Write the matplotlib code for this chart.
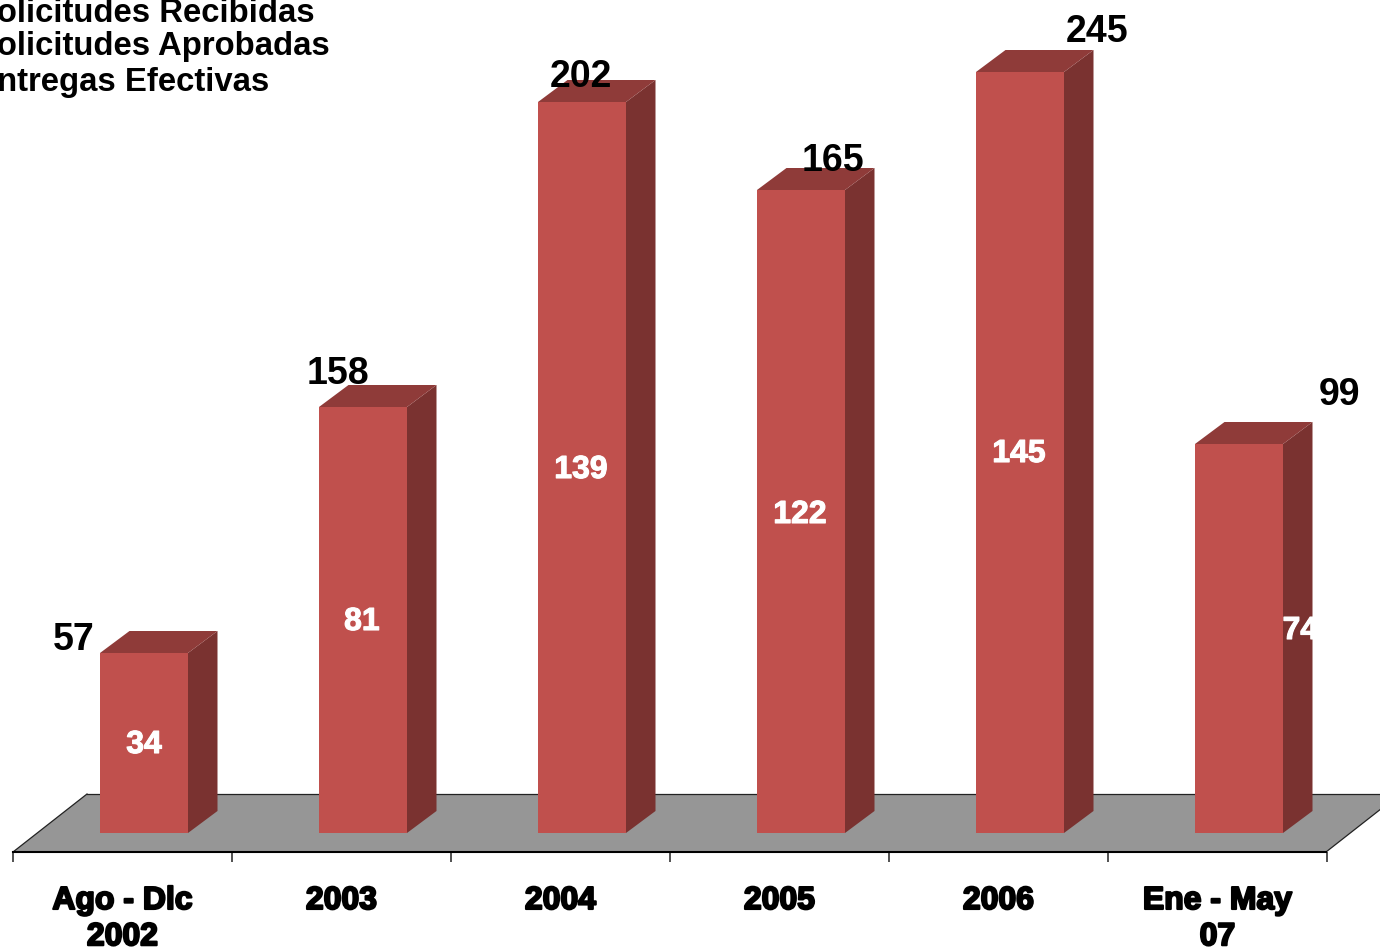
#!/usr/bin/python3.12
# Barras 3D de solicitudes: el volumen se dibuja a mano sobre ax.bar
import matplotlib
matplotlib.use("Agg")
import matplotlib.pyplot as plt
import matplotlib.patheffects as pe
from matplotlib.patches import Polygon, Rectangle

# Data
periods = ["Ago - Dlc\n2002", "2003", "2004", "2005", "2006", "Ene - May\n07"]
recibidas = [57, 158, 202, 165, 245, 99]
aprobadas = [34, 81, 139, 122, 145, 74]
bar_heights = [90, 213, 365.5, 321.5, 380.5, 194.5]
legend_names = ["Solicitudes Recibidas", "Solicitudes Aprobadas", "Entregas Efectivas"]

# label offsets from each bar's front centre, in axis units
top_dx = [-0.32, -0.115, -0.005, 0.145, 0.35, 0.46]
top_dy = [-4.5, 5.5, 1.5, 3.5, 9.0, 13.5]
inner_dx = [0.0, -0.005, -0.005, -0.005, -0.005, 0.28]
inner_y = [44, 105.5, 181.5, 159, 189.5, 101]

# geometry: one category = 219 px, one y unit = 2 px
PX_X = 219.0
PX_Y = 2.0
X0 = 144.0
Y0 = 833.0
half = 44 / PX_X
depth_x = 29.5 / PX_X
depth_y = 22 / PX_Y

FRONT = "#C0504D"
SIDE = "#7A3230"
TOP = "#8F3B39"
FLOOR = "#969696"


def px(x, y):
    return (x - X0) / PX_X, (Y0 - y) / PX_Y


plt.rcParams["font.family"] = ["Liberation Sans", "DejaVu Sans"]
plt.rcParams["font.weight"] = "bold"

fig = plt.figure(figsize=(13.8, 9.5), dpi=100)
ax = fig.add_axes([0, 0, 1, 1])
ax.set_xlim(px(0, 0)[0], px(1380, 0)[0])
ax.set_ylim(px(0, 950)[1], px(0, 0)[1])

# floor
floor = Polygon([px(13, 852), px(87, 794), px(1400, 794), px(1326, 852)],
                closed=True, facecolor=FLOOR, edgecolor="none", zorder=1)
ax.add_patch(floor)
ax.plot(*zip(px(87, 794), px(1400, 794)), color="#222222", lw=0.9, zorder=1.5)
ax.plot(*zip(px(13, 852), px(87, 794)), color="#222222", lw=0.9, zorder=1.5)
ax.plot(*zip(px(1326, 852), px(1400, 794)), color="#222222", lw=0.9, zorder=1.5)

# bars
xs = list(range(len(periods)))
ax.bar(xs, bar_heights, width=2 * half, color=FRONT, zorder=3)
for x, h in zip(xs, bar_heights):
    r = x + half
    l = x - half
    ax.add_patch(Polygon([(r, 0), (r + depth_x, depth_y), (r + depth_x, h + depth_y), (r, h)],
                         closed=True, facecolor=SIDE, edgecolor="none", zorder=2.5))
    ax.add_patch(Polygon([(l, h), (l + depth_x, h + depth_y), (r + depth_x, h + depth_y), (r, h)],
                         closed=True, facecolor=TOP, edgecolor="none", zorder=2.5))

# value labels
for x, h, val, dx, dy in zip(xs, bar_heights, recibidas, top_dx, top_dy):
    ax.text(x + dx, h + depth_y + dy, str(val), fontsize=27, color="black",
            ha="center", va="center", zorder=5)
for x, val, dx, y in zip(xs, aprobadas, inner_dx, inner_y):
    t = ax.text(x + dx, y, str(val), fontsize=23, color="white",
                ha="center", va="center", zorder=5,
                path_effects=[pe.withStroke(linewidth=0.8, foreground="white")])
    # last label gets cut at the edge of the side face
    if x == xs[-1]:
        t.set_clip_path(Rectangle((x, 0), half + depth_x, 400, transform=ax.transData))

# axis along the front of the floor
for name in ["top", "left", "right"]:
    ax.spines[name].set_visible(False)
ax.patch.set_visible(False)
ax.yaxis.set_visible(False)
ax.spines["bottom"].set_position(("data", px(0, 852)[1]))
ax.spines["bottom"].set_bounds(px(13, 0)[0], px(1326, 0)[0])
ax.spines["bottom"].set_linewidth(1.5)
ax.spines["bottom"].set_zorder(2)

edges = [px(13, 0)[0] + i for i in range(len(periods) + 1)]
ax.set_xticks(edges)
ax.set_xticklabels([])
ax.tick_params(axis="x", which="major", length=7.5, width=1.1, color="#222222")
ax.set_xticks([px(13, 0)[0] + i + 0.5 for i in xs], minor=True)
ax.set_xticklabels(periods, minor=True, fontsize=23, linespacing=1.27,
                   path_effects=[pe.withStroke(linewidth=1.5, foreground="black")])
ax.tick_params(axis="x", which="minor", length=0, pad=24.5)

# legend text, runs off the left edge of the slide
for name, y in zip(legend_names, [14, 47, 83]):
    lx, ly = px(-25, y)
    ax.text(lx, ly, name, fontsize=23.7, color="black", ha="left", va="center",
            clip_on=False, zorder=6)

fig.savefig("out.png", dpi=100)
